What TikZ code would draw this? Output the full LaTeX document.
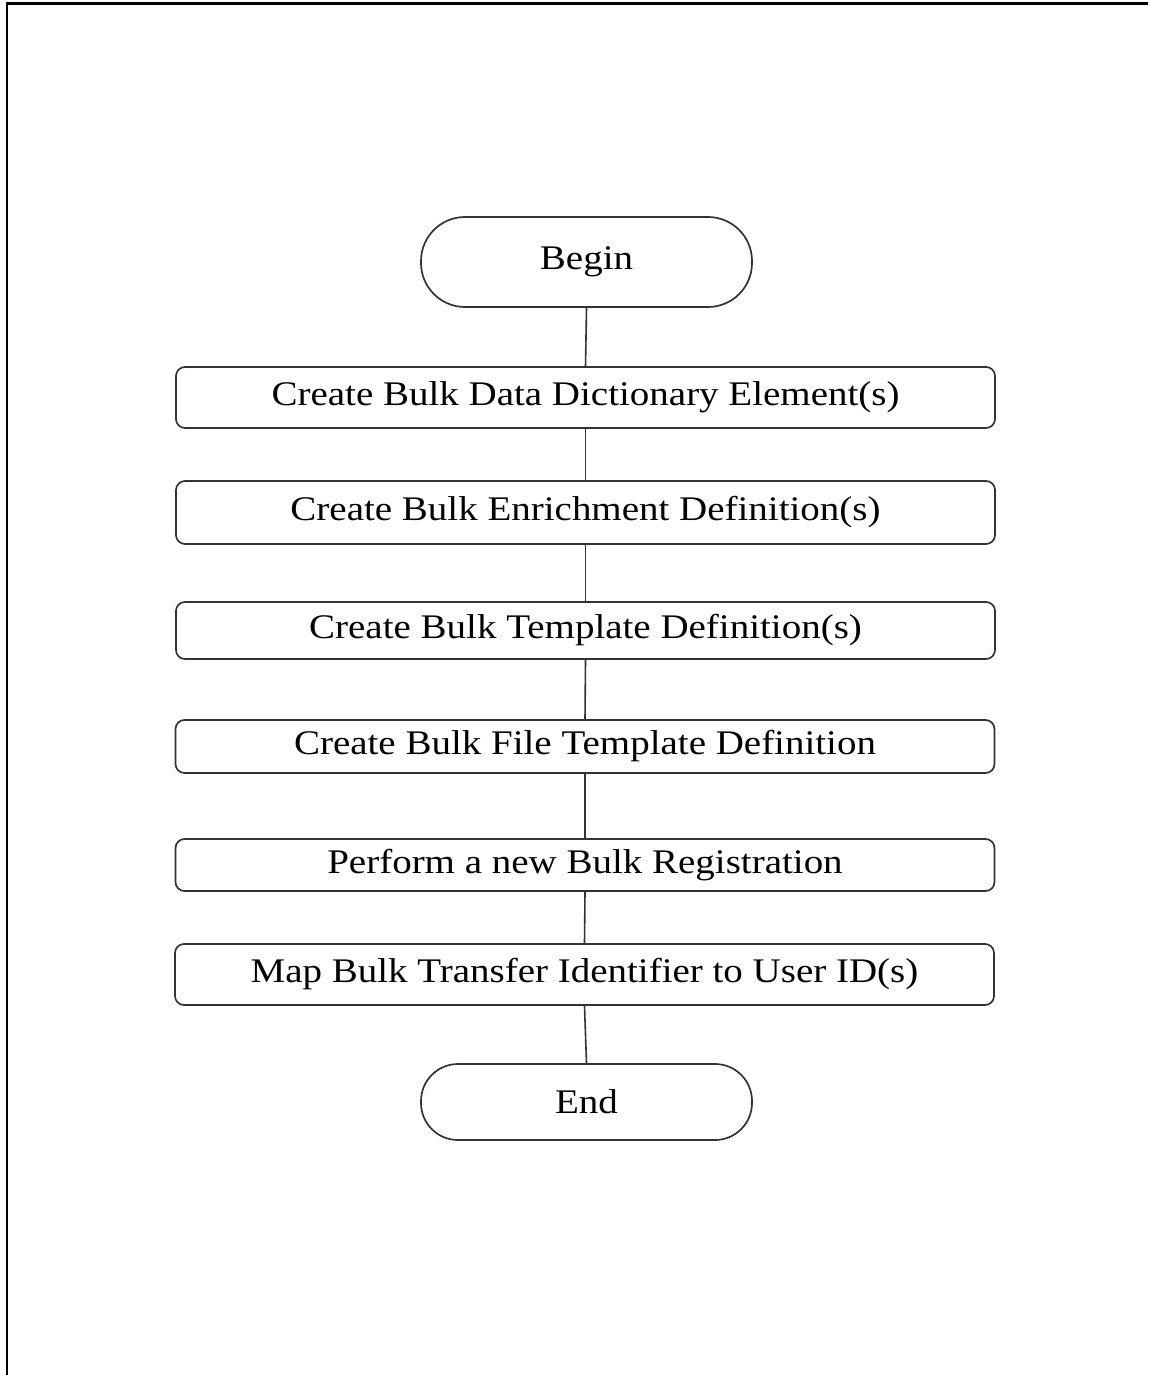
\documentclass[tikz,border=0pt]{standalone}
\usepackage{fontspec}
\setmainfont{Liberation Serif}
\usepackage{graphicx}
\newcommand{\wt}[1]{\scalebox{1.13}[1]{#1}}
\begin{document}
\begin{tikzpicture}[x=1pt,y=-1pt,
  stepbox/.style={draw=black!80,line width=1.7pt,rounded corners=9pt,minimum width=819pt,inner sep=0pt,font=\fontsize{34.5}{40}\selectfont},
  term/.style={draw=black!80,line width=1.7pt,minimum width=331pt,inner sep=0pt,font=\fontsize{34.5}{40}\selectfont},
  conn/.style={draw=black!80,line width=1.6pt}]
\useasboundingbox (0,0) rectangle (1148,1375);
\draw[line width=2.2pt] (7,1375) -- (7,3.5) -- (1148,3.5);
\node[term,rounded corners=44pt,minimum height=90pt] (begin) at (586.5,262) {\wt{Begin}};
\node[stepbox,minimum height=61pt] (s1) at (585.5,397.5) {\wt{Create Bulk Data Dictionary Element(s)}};
\node[stepbox,minimum height=63pt] (s2) at (585.5,512.5) {\wt{Create Bulk Enrichment Definition(s)}};
\node[stepbox,minimum height=57pt] (s3) at (585.5,630.5) {\wt{Create Bulk Template Definition(s)}};
\node[stepbox,minimum height=53pt] (s4) at (585,746.5) {\wt{Create Bulk File Template Definition}};
\node[stepbox,minimum height=52pt] (s5) at (585,865) {\wt{Perform a new Bulk Registration}};
\node[stepbox,minimum height=61pt] (s6) at (584.5,974.5) {\wt{Map Bulk Transfer Identifier to User ID(s)}};
\node[term,rounded corners=37pt,minimum height=76pt] (end) at (586.5,1102) {\wt{End}};
\draw[conn] (begin.south) -- (s1.north);
\draw[conn] (s1.south) -- (s2.north);
\draw[conn] (s2.south) -- (s3.north);
\draw[conn] (s3.south) -- (s4.north);
\draw[conn] (s4.south) -- (s5.north);
\draw[conn] (s5.south) -- (s6.north);
\draw[conn] (s6.south) -- (end.north);
\end{tikzpicture}
\end{document}
